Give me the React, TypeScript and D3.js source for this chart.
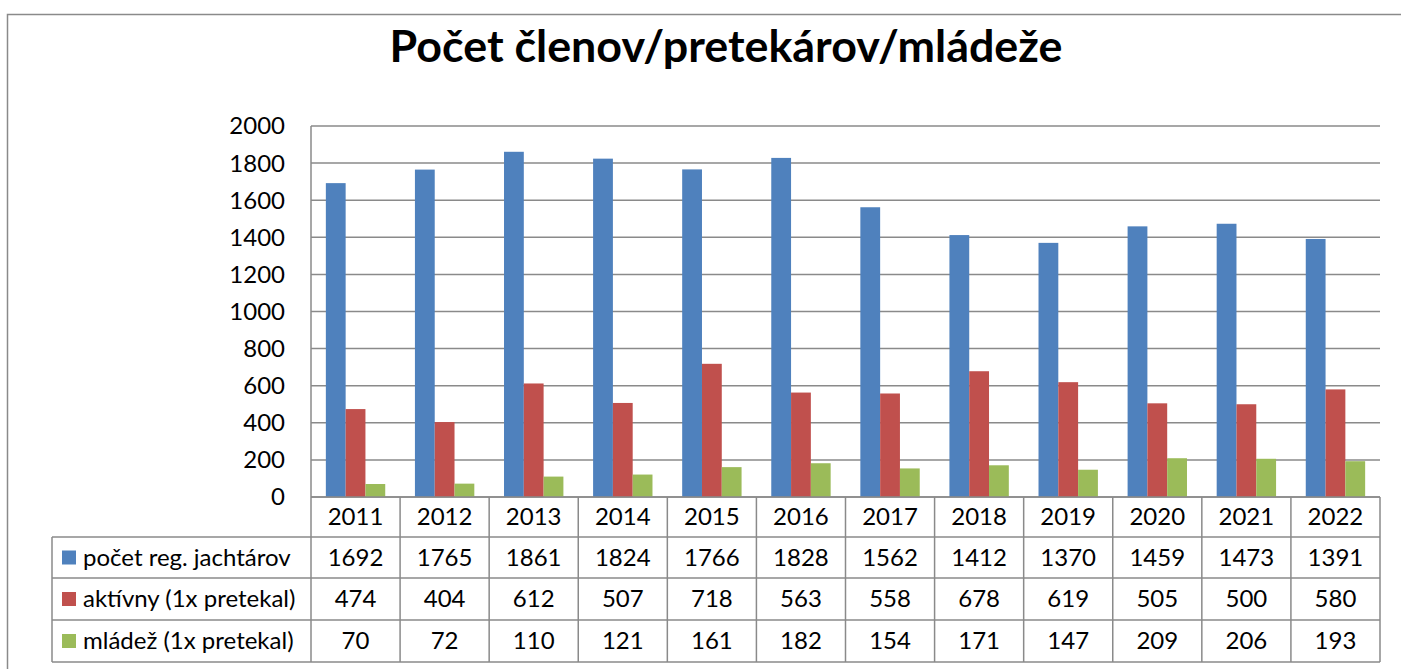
import React, { useRef, useEffect } from 'react';
import * as d3 from 'd3';

const years = ['2011', '2012', '2013', '2014', '2015', '2016', '2017', '2018', '2019', '2020', '2021', '2022'];
const registered = [1692, 1765, 1861, 1824, 1766, 1828, 1562, 1412, 1370, 1459, 1473, 1391];
const active = [474, 404, 612, 507, 718, 563, 558, 678, 619, 505, 500, 580];
const youth = [70, 72, 110, 121, 161, 182, 154, 171, 147, 209, 206, 193];
const seriesNames = ['počet reg. jachtárov', 'aktívny (1x pretekal)', 'mládež (1x pretekal)'];
const yTicks = [0, 200, 400, 600, 800, 1000, 1200, 1400, 1600, 1800, 2000];

const W = 1401;
const H = 669;
const colors = ['#4F81BD', '#C0504D', '#9BBB59'];
const lineColor = '#8a8a8a';
const font = 'Lato, "Open Sans", sans-serif';
const fs = 24;

const App: React.FC = () => {
  const svgRef = useRef<SVGSVGElement>(null);

  useEffect(() => {
    if (!svgRef.current) return;
    const svg = d3.select(svgRef.current);
    svg.selectAll('*').remove();

    const plot = { left: 311, right: 1380, top: 126, bottom: 497 };
    const rows = [497, 537, 578, 620, 662];
    const legendLeft = 52;
    const series = [registered, active, youth];

    // outer chart border
    svg.append('rect')
      .attr('x', 7.5).attr('y', 14.5)
      .attr('width', 1600).attr('height', 1000)
      .attr('fill', 'white')
      .attr('stroke', lineColor).attr('stroke-width', 1.5);

    // title
    const title = svg.append('text')
      .attr('x', 726).attr('y', 62)
      .attr('text-anchor', 'middle')
      .attr('font-family', font).attr('font-weight', 700)
      .attr('font-size', 44).attr('fill', '#000')
      .text('Počet členov/pretekárov/mládeže');
    const tl = (title.node() as SVGTextElement).getComputedTextLength();
    if (tl > 0) title.attr('font-size', 44 * 673 / tl);

    const x = d3.scaleBand<string>()
      .domain(years)
      .range([plot.left, plot.right]);
    const y = d3.scaleLinear()
      .domain([0, 2000])
      .range([plot.bottom, plot.top]);
    const inner = d3.scaleBand<number>()
      .domain([0, 1, 2])
      .range([0, x.bandwidth()])
      .paddingOuter(0.75)
      .paddingInner(0);

    // gridlines
    svg.append('g').selectAll('line')
      .data(yTicks)
      .enter().append('line')
      .attr('x1', plot.left).attr('x2', plot.right)
      .attr('y1', d => y(d)).attr('y2', d => y(d))
      .attr('stroke', lineColor).attr('stroke-width', 1.5);

    // y axis line
    svg.append('line')
      .attr('x1', plot.left).attr('x2', plot.left)
      .attr('y1', plot.top).attr('y2', plot.bottom)
      .attr('stroke', lineColor).attr('stroke-width', 1.5);

    // y tick labels
    svg.append('g').selectAll('text')
      .data(yTicks)
      .enter().append('text')
      .attr('x', 285).attr('y', d => y(d))
      .attr('dy', '0.35em')
      .attr('text-anchor', 'end')
      .attr('font-family', font).attr('font-size', fs)
      .text(d => String(d));

    // bars
    series.forEach((vals, si) => {
      svg.append('g').selectAll('rect')
        .data(vals)
        .enter().append('rect')
        .attr('x', (d, i) => (x(years[i]) || 0) + (inner(si) || 0))
        .attr('y', d => y(d))
        .attr('width', inner.bandwidth())
        .attr('height', d => plot.bottom - y(d))
        .attr('fill', colors[si]);
    });

    // data table lines
    const tg = svg.append('g').attr('stroke', lineColor).attr('stroke-width', 1.5);
    rows.forEach((ry, i) => {
      tg.append('line')
        .attr('x1', i === 0 ? plot.left : legendLeft).attr('x2', plot.right)
        .attr('y1', ry).attr('y2', ry);
    });
    const bounds = years.map(yr => x(yr) || 0).concat([plot.right]);
    bounds.forEach(bx => {
      tg.append('line')
        .attr('x1', bx).attr('x2', bx)
        .attr('y1', rows[0]).attr('y2', rows[4]);
    });
    tg.append('line')
      .attr('x1', legendLeft).attr('x2', legendLeft)
      .attr('y1', rows[1]).attr('y2', rows[4]);

    // header years
    svg.append('g').selectAll('text')
      .data(years)
      .enter().append('text')
      .attr('x', d => (x(d) || 0) + x.bandwidth() / 2)
      .attr('y', (rows[0] + rows[1]) / 2)
      .attr('dy', '0.35em')
      .attr('text-anchor', 'middle')
      .attr('font-family', font).attr('font-size', fs)
      .text(d => d);

    // rows
    series.forEach((vals, si) => {
      const cy = (rows[si + 1] + rows[si + 2]) / 2;
      svg.append('rect')
        .attr('x', 62).attr('y', cy - 7)
        .attr('width', 14).attr('height', 14)
        .attr('fill', colors[si]);
      svg.append('text')
        .attr('x', 83).attr('y', cy).attr('dy', '0.35em')
        .attr('font-family', font).attr('font-size', fs)
        .text(seriesNames[si]);
      svg.append('g').selectAll('text')
        .data(vals)
        .enter().append('text')
        .attr('x', (d, i) => (x(years[i]) || 0) + x.bandwidth() / 2)
        .attr('y', cy).attr('dy', '0.35em')
        .attr('text-anchor', 'middle')
        .attr('font-family', font).attr('font-size', fs)
        .text(d => String(d));
    });
  }, []);

  return (
    <svg ref={svgRef} width={W} height={H} style={{ display: 'block', position: 'absolute', left: 0, top: 0 }}></svg>
  );
};

export default App;
